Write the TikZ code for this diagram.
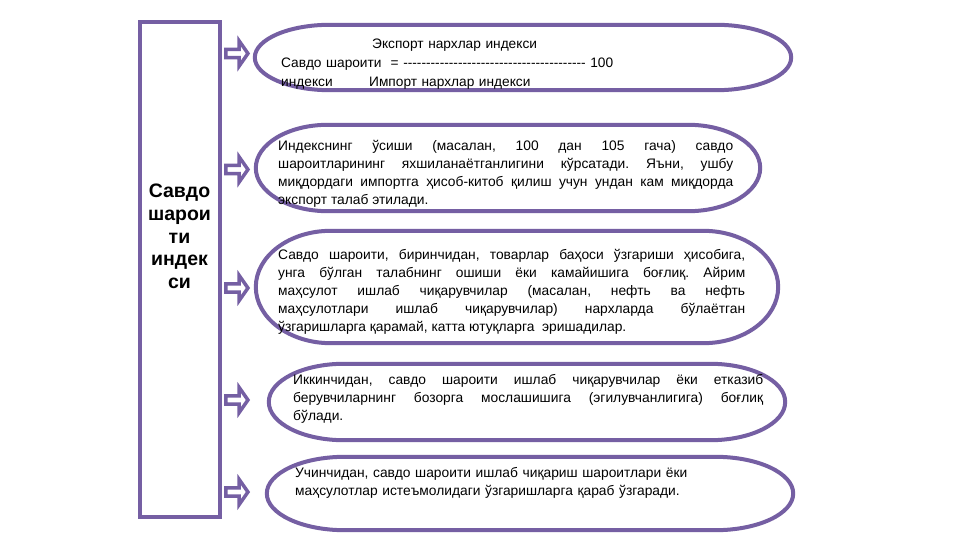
\documentclass[tikz,border=0pt]{standalone}
\usepackage{fontspec}
\setmainfont{Liberation Sans}
\usetikzlibrary{calc,positioning,shapes.arrows}
\definecolor{lilac}{RGB}{117,95,163}
% oval with half-elliptic ends round a node
\newcommand\capsule[2]{%
\draw[rim] ([xshift=#2pt]#1.north west) -- ([xshift=-#2pt]#1.north east)
  .. controls ([xshift=-0.448*#2pt]#1.north east) and ($(#1.east)!0.552!(#1.north east)$) .. (#1.east)
  .. controls ($(#1.east)!0.552!(#1.south east)$) and ([xshift=-0.448*#2pt]#1.south east) .. ([xshift=-#2pt]#1.south east)
  -- ([xshift=#2pt]#1.south west)
  .. controls ([xshift=0.448*#2pt]#1.south west) and ($(#1.west)!0.552!(#1.south west)$) .. (#1.west)
  .. controls ($(#1.west)!0.552!(#1.north west)$) and ([xshift=0.448*#2pt]#1.north west) .. ([xshift=#2pt]#1.north west) -- cycle;}
\newcommand\dashes[1]{\foreach \k in {1,...,#1}{-}}
\frenchspacing
\begin{document}
\begin{tikzpicture}[x=1pt,y=-1pt,
  rim/.style={draw=lilac,line width=4pt},
  panel/.style={draw=lilac,line width=4pt,minimum width=80pt,minimum height=495pt,inner sep=0pt},
  title/.style={align=center,text width=80pt,font=\fontsize{19.5}{22.6}\selectfont\bfseries},
  oval/.style={inner sep=0pt},
  txt/.style={inner sep=0pt,anchor=base west,font=\fontsize{13.8}{18}\selectfont},
  pointer/.style={single arrow,draw=lilac,fill=white,line width=3.5pt,inner sep=0pt,
    minimum height=22pt,minimum width=25pt,single arrow head extend=3.5pt,single arrow tip angle=110}]
\useasboundingbox[fill=white] (0,0) rectangle (961,540);

\node (idx) at (179.5,269.5)[panel] {};
\node (ttl) at (179.5,198)[title,anchor=base] {Савдо\\шарои\\ти\\индек\\си};

\node (b1) at (523,57.5)[oval,minimum width=536pt,minimum height=65pt] {};
\node (b2) at (508,168)[oval,minimum width=504pt,minimum height=86pt] {};
\node (b3) at (517,287)[oval,minimum width=522pt,minimum height=112pt] {};
\node (b4) at (527,402)[oval,minimum width=516pt,minimum height=76pt] {};
\node (b5) at (530,493.5)[oval,minimum width=526pt,minimum height=73pt] {};
\capsule{b1}{75}
\capsule{b2}{72}
\capsule{b3}{75}
\capsule{b4}{75}
\capsule{b5}{78}

\node (a1) at (235.5,53.5)[pointer] {};
\node (a2) at (235.5,169.5)[pointer] {};
\node (a3) at (235.5,288)[pointer] {};
\node (a4) at (235.5,400)[pointer] {};
\node (a5) at (235.5,492)[pointer] {};

\node (t1) at (281,49)[txt,align=left,text width=420pt,font=\fontsize{13.7}{19}\selectfont]
  {\hspace*{91pt}Экспорт нархлар индекси\\
   Савдо шароити\ \ = \dashes{40} 100\\
   \makebox[88pt][l]{индекси}Импорт нархлар индекси};
\node (t2) at (278,151)[txt,align=justify,text width=455pt]
  {Индекснинг ўсиши (масалан, 100 дан 105 гача) савдо\linebreak
   шароитларининг яхшиланаётганлигини кўрсатади. Яъни, ушбу\linebreak
   миқдордаги импортга ҳисоб-китоб қилиш учун ундан кам миқдорда\linebreak
   экспорт талаб этилади.};
\node (t3) at (278,259)[txt,align=justify,text width=467pt]
  {Савдо шароити, биринчидан, товарлар баҳоси ўзгариши ҳисобига,\linebreak
   унга бўлган талабнинг ошиши ёки камайишига боғлиқ. Айрим\linebreak
   маҳсулот ишлаб чиқарувчилар (масалан, нефть ва нефть\linebreak
   маҳсулотлари ишлаб чиқарувчилар) нархларда бўлаётган\linebreak
   ўзгаришларга қарамай, катта ютуқларга\ \ эришадилар.};
\node (t4) at (293,384)[txt,align=justify,text width=470pt]
  {Иккинчидан, савдо шароити ишлаб чиқарувчилар ёки етказиб\linebreak
   берувчиларнинг бозорга мослашишига (эгилувчанлигига) боғлиқ\linebreak
   бўлади.};
\node (t5) at (295,477)[txt,align=left,text width=470pt]
  {Учинчидан, савдо шароити ишлаб чиқариш шароитлари ёки\\
   маҳсулотлар истеъмолидаги ўзгаришларга қараб ўзгаради.};
\end{tikzpicture}
\end{document}
